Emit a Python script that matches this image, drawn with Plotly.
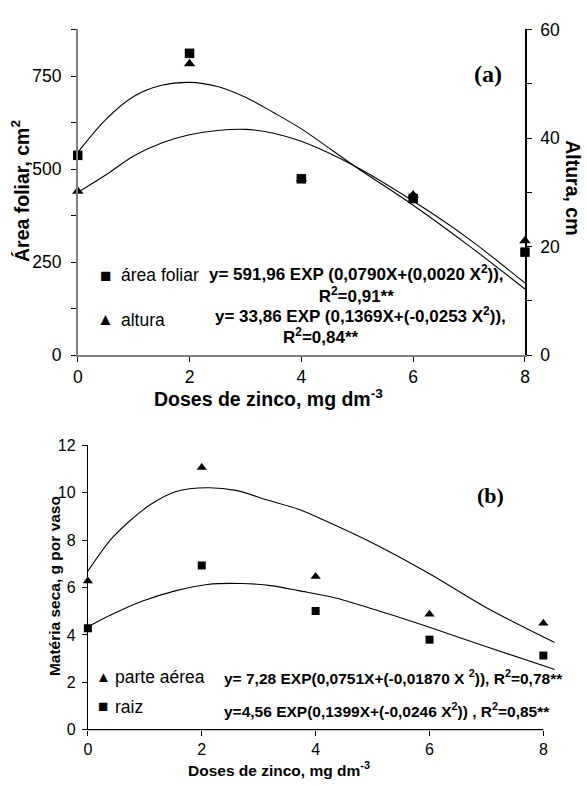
import plotly.graph_objects as go

W, H = 587, 786

# ---- (a) leaf area and plant height vs zinc dose ----
doses = [0, 2, 4, 6, 8]
area_foliar = [537, 811, 474, 421, 277]          # cm2
altura = [30.2, 53.7, 32.5, 29.5, 21.1]          # cm

# fitted curves
fit_x_a = [0, 0.5, 1, 1.5, 2, 2.5, 3, 3.5, 4, 5, 6, 7, 8]
fit_area = [545, 633, 695, 725, 733, 722, 693, 652, 608, 503, 403, 294, 178]
fit_altura = [30.0, 33.2, 36.7, 39.1, 40.6, 41.4, 41.6, 40.9, 39.4, 34.6, 28.4, 21.4, 13.3]

# ---- (b) dry matter vs zinc dose ----
parte_aerea = [6.27, 11.06, 6.47, 4.87, 4.49]   # g por vaso
raiz = [4.28, 6.93, 5.01, 3.80, 3.13]

fit_x_b = [0, 0.4, 0.75, 1.1, 1.55, 2.1, 2.6, 3.15, 3.7, 4.15, 5.0, 6.0, 7.0, 8.2]
fit_aerea = [6.69, 8.02, 8.84, 9.50, 10.05, 10.21, 10.10, 9.69, 9.30, 8.84, 7.88, 6.58, 5.15, 3.68]
fit_x_r = [0, 0.4, 0.95, 1.55, 2.1, 2.7, 3.25, 3.7, 4.35, 5.3, 6.0, 7.0, 8.2]
fit_raiz = [4.34, 4.84, 5.42, 5.87, 6.13, 6.17, 6.07, 5.87, 5.56, 4.87, 4.32, 3.50, 2.54]

ticks_area = [0, 250, 500, 750]
ticks_alt = [0, 20, 40, 60]
ticks_dose = [0, 2, 4, 6, 8]
ticks_ms = [0, 2, 4, 6, 8, 10, 12]

FONT = "Liberation Sans, Arial, sans-serif"
SERIF = "Liberation Serif, Times New Roman, serif"

# plot-area edges in page pixels
A_LEFT, A_RIGHT, A_TOP, A_BOTTOM = 74, 529, 20, 354.3
B_LEFT, B_RIGHT, B_TOP, B_BOTTOM = 84.3, 559.3, 446.7, 738.5
B_XMAX = 8.2


def px(x):
    return x / W


def py(y):
    return 1 - y / H


line = dict(color="black", width=1.1, shape="spline", smoothing=0.9)

fig = go.Figure()
fig.add_trace(go.Scatter(x=fit_x_a, y=fit_area, mode="lines", line=line,
                         xaxis="x", yaxis="y", showlegend=False, hoverinfo="skip"))
fig.add_trace(go.Scatter(x=fit_x_a, y=fit_altura, mode="lines", line=line,
                         xaxis="x", yaxis="y2", showlegend=False, hoverinfo="skip"))
fig.add_trace(go.Scatter(x=doses, y=area_foliar, mode="markers", name="área foliar",
                         marker=dict(symbol="square", size=9.5, color="black"),
                         xaxis="x", yaxis="y", showlegend=False, cliponaxis=False))
fig.add_trace(go.Scatter(x=doses, y=altura, mode="markers", name="altura",
                         marker=dict(symbol="triangle-up", size=10, color="black"),
                         xaxis="x", yaxis="y2", showlegend=False, cliponaxis=False))

fig.add_trace(go.Scatter(x=fit_x_b, y=fit_aerea, mode="lines", line=line,
                         xaxis="x3", yaxis="y3", showlegend=False, hoverinfo="skip"))
fig.add_trace(go.Scatter(x=fit_x_r, y=fit_raiz, mode="lines", line=line,
                         xaxis="x3", yaxis="y3", showlegend=False, hoverinfo="skip"))
fig.add_trace(go.Scatter(x=doses, y=parte_aerea, mode="markers", name="parte aérea",
                         marker=dict(symbol="triangle-up", size=9, color="black"),
                         xaxis="x3", yaxis="y3", showlegend=False, cliponaxis=False))
fig.add_trace(go.Scatter(x=doses, y=raiz, mode="markers", name="raiz",
                         marker=dict(symbol="square", size=8, color="black"),
                         xaxis="x3", yaxis="y3", showlegend=False, cliponaxis=False))

axis_common = dict(showgrid=False, zeroline=False, ticks="outside", ticklen=5,
                   tickcolor="black", showline=True, fixedrange=True)
minor_tick = dict(ticks="outside", ticklen=5, tickcolor="black", showgrid=False)

fig.update_layout(
    width=W, height=H, margin=dict(l=0, r=0, t=0, b=0),
    paper_bgcolor="white", plot_bgcolor="white",
    font=dict(family=FONT, color="black"),
    xaxis=dict(domain=[px(A_LEFT), px(A_RIGHT)], range=[0, 8], tickvals=ticks_dose,
               anchor="y", linecolor="#808080", linewidth=1.5,
               tickfont=dict(size=17.5), **axis_common),
    yaxis=dict(domain=[py(A_BOTTOM), py(A_TOP)], range=[0, 875], tickvals=ticks_area,
               minor=dict(dtick=125, **minor_tick), anchor="x",
               linecolor="#808080", linewidth=1.5,
               tickfont=dict(size=17.5), ticklabelstandoff=6, **axis_common),
    yaxis2=dict(range=[0, 60], tickvals=ticks_alt, minor=dict(dtick=10, **minor_tick),
                overlaying="y", side="right", anchor="x", linecolor="black",
                linewidth=1.5, tickfont=dict(size=17.5), ticklabelstandoff=5,
                **axis_common),
    xaxis3=dict(domain=[px(B_LEFT), px(B_RIGHT)], range=[0, B_XMAX], tickvals=ticks_dose,
                anchor="y3", tickfont=dict(size=16),
                **{**axis_common, "showline": False}),
    yaxis3=dict(domain=[py(B_BOTTOM), py(B_TOP)], range=[0, 12], tickvals=ticks_ms,
                anchor="x3", linecolor="black", linewidth=1.2,
                tickfont=dict(size=16), ticklabelstandoff=3, **axis_common),
)

# bottom x-axis line runs from the origin to the last tick (dose 8)
b_x8 = B_LEFT + 8 / B_XMAX * (B_RIGHT - B_LEFT)
fig.add_shape(type="line", xref="paper", yref="paper",
              x0=px(B_LEFT), x1=px(b_x8), y0=py(B_BOTTOM), y1=py(B_BOTTOM),
              line=dict(color="black", width=1.2))


def note(text, x, y, size, xanchor="center", angle=0, family=FONT, align="center"):
    fig.add_annotation(text=text, x=px(x), y=py(y), xref="paper", yref="paper",
                       showarrow=False, xanchor=xanchor, yanchor="middle", align=align,
                       textangle=angle, font=dict(size=size, family=family, color="black"))


# axis titles
note("<b>Área foliar, cm<sup>2</sup></b>", 16, 186, 19.5, angle=-90)
note("<b>Altura, cm</b>", 577, 182, 19.5, angle=90)
note("<b>Doses de zinco, mg dm<sup>-3</sup></b>", 268, 398, 19.5)
note("<b>Matéria seca, g por vaso</b>", 51, 591, 15.5, angle=-90)
note("<b>Doses de zinco, mg dm<sup>-3</sup></b>", 279, 779, 15.5)

# panel tags
note("<b>(a)</b>", 491, 66, 24, family=SERIF)
note("<b>(b)</b>", 494, 498, 22, family=SERIF)

# legend keys and equations, panel (a)
note("■", 102, 272, 19)
note("área foliar", 116, 272, 17.5, xanchor="left")
note("▲", 102, 318, 17)
note("altura", 116, 318, 17.5, xanchor="left")
note("<b>y= 591,96 EXP (0,0790X+(0,0020 X<sup>2</sup>)),<br>"
     "R<sup>2</sup>=0,91**</b>", 206, 281, 17, xanchor="left")
note("<b>y= 33,86 EXP (0,1369X+(-0,0253 X<sup>2</sup>)),</b>", 212, 313, 17, xanchor="left")
note("<b>R<sup>2</sup>=0,84**</b>", 321, 335, 17)

# legend keys and equations, panel (b)
note("▲", 100, 684, 15)
note("parte aérea", 110, 684, 17.5, xanchor="left")
note("■", 100, 715, 17)
note("raiz", 110, 715, 17.5, xanchor="left")
note("<b>y= 7,28 EXP(0,0751X+(-0,01870 X <sup>2</sup>)), R<sup>2</sup>=0,78**</b>",
     221, 684, 15.5, xanchor="left")
note("<b>y=4,56 EXP(0,1399X+(-0,0246 X<sup>2</sup>)) , R<sup>2</sup>=0,85**</b>",
     221, 718, 15.5, xanchor="left")

fig.write_html("out.html")
